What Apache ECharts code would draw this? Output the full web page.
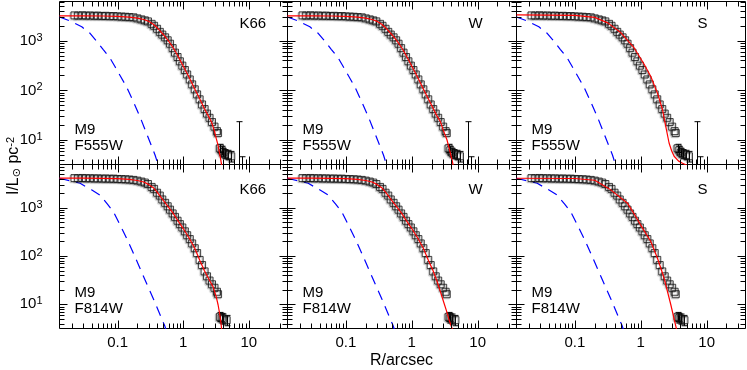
<!DOCTYPE html>
<html>
<head>
<meta charset="utf-8">
<script src="https://cdn.jsdelivr.net/npm/echarts@6/dist/echarts.min.js"></script>
<style>
  html, body { margin: 0; padding: 0; background: #fff; }
  #chart { width: 747px; height: 370px; }
</style>
</head>
<body>
<div id="chart"></div>
<script>
// profile radii (arcsec), shared by both filters
const radii = [0.022, 0.025, 0.029, 0.033, 0.038, 0.044, 0.050, 0.058, 0.066, 0.076, 0.087, 0.100,
  0.115, 0.132, 0.151, 0.174, 0.20, 0.23, 0.26, 0.29, 0.33, 0.36, 0.40, 0.44, 0.48, 0.53, 0.58, 0.63,
  0.69, 0.75, 0.82, 0.89, 0.97, 1.06, 1.15, 1.26, 1.37, 1.50, 1.63, 1.78, 1.94, 2.12, 2.31, 2.52,
  2.75, 3.00, 3.27, 3.40]

// surface brightness, L_sun / pc^2
const f555Flux = [3240, 3200, 3260, 3190, 3230, 3170, 3210, 3150, 3180, 3120, 3140, 3090,
  3060, 3040, 2990, 2960, 2820, 2690, 2570, 2450, 2190, 2000, 1740, 1510, 1330, 1170, 1020, 870,
  710, 575, 470, 385, 315, 257, 209, 166, 132, 105, 83, 66, 52, 42, 34, 28,
  23, 18.6, 15.1, 13.8]
const f814Flux = [4100, 4060, 4120, 4040, 4080, 4010, 4050, 3980, 4020, 3960, 3990, 3930,
  3900, 3870, 3820, 3760, 3630, 3470, 3310, 3090, 2690, 2450, 2040, 1780, 1480, 1260, 1070, 910,
  760, 645, 537, 457, 389, 324, 269, 224, 182, 145, 115, 83, 65, 48, 38, 31,
  26, 22, 18.2, 16.2]

// faint outer points: [R, I, low, high]
const f555Tail = [[3.62, 6.8, 5.6, 8.2], [3.85, 6.2, 5.0, 7.5], [4.06, 5.6, 4.6, 6.8],
  [4.35, 5.2, 4.2, 6.4], [4.84, 5.0, 4.0, 6.2], [5.4, 4.7, 3.6, 5.9]]
const f814Tail = [[3.62, 5.5, 4.4, 6.8], [3.85, 5.2, 4.1, 6.5], [4.06, 5.0, 3.9, 6.3],
  [4.6, 4.7, 3.6, 5.9]]
// error bars whose points fall below the plot: [R, low, high]
const f555Bars = [[7.1, 1, 23.4], [8.0, 1, 4.6]]

// PSF profiles
const f555Psf = [[0.013, 3000], [0.0188, 2510], [0.0284, 1905], [0.038, 1410], [0.0508, 890],
  [0.06, 670], [0.0766, 447], [0.091, 302], [0.11, 195], [0.137, 117], [0.17, 63], [0.219, 29.5],
  [0.28, 13], [0.372, 5.0], [0.42, 3.0]]
const f814Psf = [[0.013, 4070], [0.0268, 3200], [0.04, 2340], [0.054, 1820], [0.07, 1180],
  [0.086, 832], [0.11, 430], [0.137, 234], [0.17, 123], [0.219, 56], [0.28, 26], [0.349, 13.2],
  [0.526, 3.5], [0.56, 2.7]]

// model fits: King 1966, Wilson, Sersic
const k66F555 = [[0.013, 3180], [0.03, 3175], [0.06, 3150], [0.1, 3100], [0.15, 3000], [0.2, 2860],
  [0.25, 2680], [0.3, 2450], [0.35, 2150], [0.4, 1830], [0.5, 1320], [0.6, 980], [0.7, 730],
  [0.8, 540], [1.0, 310], [1.25, 175], [1.5, 107], [1.8, 66], [2.1, 43], [2.4, 31], [2.7, 23],
  [3.0, 15], [3.2, 10.5], [3.4, 7.8], [3.6, 5.2], [3.75, 3.9], [3.84, 3.2], [3.95, 2.3]]
const wF555 = [[0.013, 3180], [0.03, 3175], [0.06, 3150], [0.1, 3100], [0.15, 3000], [0.2, 2860],
  [0.25, 2680], [0.3, 2450], [0.35, 2150], [0.4, 1830], [0.5, 1320], [0.6, 980], [0.7, 730],
  [0.8, 540], [1.0, 310], [1.25, 175], [1.5, 107], [1.8, 66], [2.1, 44], [2.4, 31], [2.72, 23.4],
  [3.0, 16], [3.43, 10], [3.86, 5.4], [4.05, 4.1], [4.24, 3.2], [4.4, 2.4]]
const sF555 = [[0.013, 3310], [0.1, 3240], [0.2, 2950], [0.316, 2290], [0.5, 1445], [0.79, 724],
  [1.12, 339], [1.42, 190], [1.8, 87], [2.14, 40.7], [2.4, 18.6], [2.69, 8.7], [2.95, 6.0],
  [3.21, 4.7], [3.72, 3.8], [4.31, 3.4], [5.0, 3.1]]
const k66F814 = [[0.013, 4080], [0.03, 4075], [0.06, 4050], [0.1, 3980], [0.15, 3850], [0.2, 3650],
  [0.25, 3400], [0.3, 3000], [0.35, 2600], [0.4, 2100], [0.5, 1400], [0.6, 1020], [0.7, 770],
  [0.8, 580], [1.0, 370], [1.25, 228], [1.5, 145], [1.8, 80], [2.1, 50], [2.5, 32], [2.86, 23],
  [3.2, 14], [3.4, 9.8], [3.6, 6.3], [3.75, 4.3], [3.84, 3.16], [3.95, 2.2]]
const wF814 = [[0.013, 4080], [0.03, 4075], [0.06, 4050], [0.1, 3980], [0.15, 3850], [0.2, 3650],
  [0.25, 3400], [0.3, 3000], [0.35, 2600], [0.4, 2100], [0.5, 1400], [0.6, 1020], [0.7, 770],
  [0.8, 580], [1.0, 370], [1.25, 228], [1.5, 145], [1.8, 80], [2.1, 50], [2.42, 30], [2.75, 17.5],
  [3.05, 11.2], [3.35, 7.5], [3.63, 5.1], [3.9, 3.8], [4.09, 3.16], [4.3, 2.4]]
const sF814 = [[0.013, 4070], [0.1, 4020], [0.2, 3700], [0.35, 2340], [0.63, 1230], [0.8, 733],
  [1.0, 436], [1.42, 200], [1.8, 89], [2.26, 35], [2.86, 9.8], [3.41, 3.5], [3.6, 2.5]]

const fitNames = ['K66', 'W', 'S']
const bandNames = ['F555W', 'F814W']
const xRange = [0.013, 38.9]
const yRanges = [[3.21, 6170], [3.16, 7830]]
const xTickLabels = { 0.1: '0.1', 1: '1', 10: '10' }

const font = 'Liberation Sans'
const colLeft = [59.5, 287.5, 516.5]
const colWidth = [228, 229, 229]
const rowTop = [1.5, 164.5]
const rowHeight = [163, 164]

const rows = [
  { flux: f555Flux, tail: f555Tail, bars: f555Bars, psf: f555Psf, models: [k66F555, wF555, sF555] },
  { flux: f814Flux, tail: f814Tail, bars: [], psf: f814Psf, models: [k66F814, wF814, sF814] }
]

function logTicks(lo, hi) {
  const out = []
  for (let e = Math.floor(Math.log10(lo)); e <= Math.ceil(Math.log10(hi)); e++) {
    for (let m = 1; m <= 9; m++) {
      const v = m * Math.pow(10, e)
      if (v > lo && v < hi) out.push([v, m === 1 ? 1 : 0])
    }
  }
  return out
}

// one item per tick: [x, y, major, isYTick]
function tickData(yr) {
  const xm = Math.sqrt(xRange[0] * xRange[1])
  const ym = Math.sqrt(yr[0] * yr[1])
  return logTicks(xRange[0], xRange[1]).map(t => [t[0], ym, t[1], 0])
    .concat(logTicks(yr[0], yr[1]).map(t => [xm, t[0], t[1], 1]))
}

// inward ticks on both opposite sides of a panel
function renderTick(params, api) {
  const cs = params.coordSys
  const p = api.coord([api.value(0), api.value(1)])
  const len = api.value(2) ? 8 : 5
  let a, b
  if (api.value(3)) {
    const py = Math.round(p[1]) + 0.5
    a = [cs.x, py, cs.x + len, py]
    b = [cs.x + cs.width, py, cs.x + cs.width - len, py]
  } else {
    const px = Math.round(p[0]) + 0.5
    a = [px, cs.y + cs.height, px, cs.y + cs.height - len]
    b = [px, cs.y, px, cs.y + len]
  }
  return {
    type: 'group',
    children: [a, b].map(s => ({
      type: 'line', shape: { x1: s[0], y1: s[1], x2: s[2], y2: s[3] },
      style: { stroke: '#000', lineWidth: 1 }
    }))
  }
}

// vertical error bar; lo/hi are dimension indices
function errorBar(loDim, hiDim) {
  return function (params, api) {
    const r = api.value(0)
    const lo = api.coord([r, api.value(loDim)])
    const hi = api.coord([r, api.value(hiDim)])
    const px = Math.round(lo[0]) + 0.5
    const segs = [[px, lo[1], px, hi[1]], [px - 3, hi[1], px + 3, hi[1]], [px - 3, lo[1], px + 3, lo[1]]]
    return {
      type: 'group',
      children: segs.map(s => ({
        type: 'line', shape: { x1: s[0], y1: s[1], x2: s[2], y2: s[3] },
        style: { stroke: '#000', lineWidth: 1 }
      }))
    }
  }
}

const grids = []
const xAxes = []
const yAxes = []
const series = []
const graphics = []
const square = {
  color: 'rgba(0,0,0,0)', borderColor: '#111', borderWidth: 1,
  shadowColor: 'rgba(0,0,0,0.35)', shadowBlur: 1, shadowOffsetX: -1, shadowOffsetY: 1
}

rows.forEach((row, ri) => {
  const yr = yRanges[ri]
  fitNames.forEach((fit, ci) => {
    const gi = ri * 3 + ci
    grids.push({
      left: colLeft[ci], top: rowTop[ri], width: colWidth[ci], height: rowHeight[ri],
      show: true, borderColor: '#000', borderWidth: 1, backgroundColor: 'transparent',
      outerBoundsMode: 'none'
    })
    xAxes.push({
      type: 'log', gridIndex: gi, min: xRange[0], max: xRange[1],
      axisLine: { show: false }, axisTick: { show: false }, splitLine: { show: false },
      axisLabel: {
        show: ri === 1, margin: 7, showMinLabel: false, showMaxLabel: false,
        fontFamily: font, fontSize: 15, color: '#000',
        formatter: v => xTickLabels[+v.toPrecision(3)] || ''
      }
    })
    yAxes.push({
      type: 'log', gridIndex: gi, min: yr[0], max: yr[1],
      axisLine: { show: false }, axisTick: { show: false }, splitLine: { show: false },
      axisLabel: {
        show: ci === 0, margin: 17, showMinLabel: false, showMaxLabel: false,
        formatter: v => '{b|10}{s|' + Math.round(Math.log10(v)) + '}',
        rich: {
          b: { fontFamily: font, fontSize: 15, color: '#000' },
          s: { fontFamily: font, fontSize: 11, color: '#000', verticalAlign: 'top', padding: [0, 0, 6, 0] }
        }
      }
    })
    const common = { xAxisIndex: gi, yAxisIndex: gi, animation: false, silent: true }
    series.push(Object.assign({
      type: 'line', data: row.psf, showSymbol: false, z: 2,
      lineStyle: { color: '#0000ff', width: 1.2, type: [10, 7] }
    }, common))
    series.push(Object.assign({
      type: 'scatter', data: radii.map((r, i) => [r, row.flux[i]]),
      symbol: 'rect', symbolSize: 7, itemStyle: square, z: 3
    }, common))
    series.push(Object.assign({
      type: 'scatter', data: row.tail.map(t => [t[0], t[1]]),
      symbol: 'rect', symbolSize: 7, itemStyle: square, z: 3
    }, common))
    series.push(Object.assign({
      type: 'custom', data: row.tail, renderItem: errorBar(2, 3), clip: true, z: 3
    }, common))
    if (row.bars.length) {
      series.push(Object.assign({
        type: 'custom', data: row.bars, renderItem: errorBar(1, 2), clip: true, z: 3
      }, common))
    }
    series.push(Object.assign({
      type: 'line', data: row.models[ci], showSymbol: false, z: 4,
      lineStyle: { color: '#ff0000', width: 1.2 }
    }, common))
    series.push(Object.assign({
      type: 'custom', data: tickData(yr), renderItem: renderTick, clip: false, z: 5
    }, common))

    const right = colLeft[ci] + colWidth[ci]
    graphics.push({
      type: 'text', x: right - 48, y: rowTop[ri] + (ri === 0 ? 22 : 25),
      style: { text: fit, fontFamily: font, fontSize: 15, fill: '#000', verticalAlign: 'middle' }
    })
    graphics.push({
      type: 'text', x: colLeft[ci] + 15, y: rowTop[ri] + 128,
      style: { text: 'M9', fontFamily: font, fontSize: 15, fill: '#000', verticalAlign: 'middle' }
    })
    graphics.push({
      type: 'text', x: colLeft[ci] + 15, y: rowTop[ri] + 144.5,
      style: { text: bandNames[ri], fontFamily: font, fontSize: 15, fill: '#000', verticalAlign: 'middle' }
    })
  })
})

graphics.push({
  type: 'text', x: 401.5, y: 361,
  style: { text: 'R/arcsec', fontFamily: font, fontSize: 16, fill: '#000', align: 'center', verticalAlign: 'middle' }
})
graphics.push({
  type: 'text', x: 14, y: 166, rotation: Math.PI / 2,
  style: {
    text: '{a|I/L}{o|⊙}{a| pc}{p|-2}', align: 'center', verticalAlign: 'middle',
    rich: {
      a: { fontFamily: font, fontSize: 16, fill: '#000' },
      o: { fontFamily: 'DejaVu Sans', fontSize: 11, fill: '#000', verticalAlign: 'bottom', padding: [6, 0, 0, 0] },
      p: { fontFamily: font, fontSize: 11, fill: '#000', verticalAlign: 'top', padding: [0, 0, 6, 0] }
    }
  }
})

const chart = echarts.init(document.getElementById('chart'))
chart.setOption({
  animation: false,
  backgroundColor: '#fff',
  grid: grids,
  xAxis: xAxes,
  yAxis: yAxes,
  series,
  graphic: graphics
})
</script>
</body>
</html>
